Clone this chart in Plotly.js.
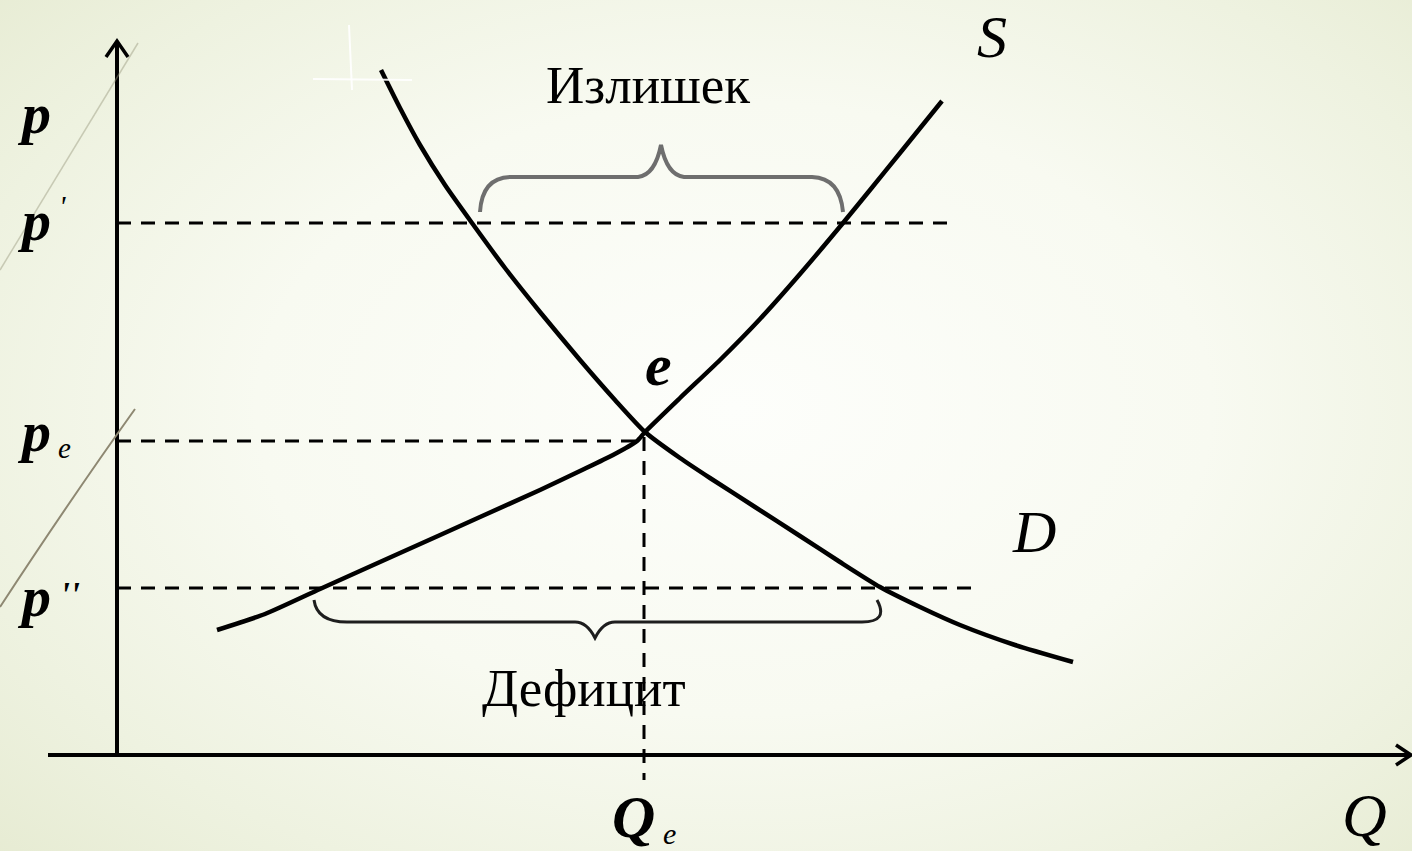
<!DOCTYPE html>
<html>
<head>
<meta charset="utf-8">
<script src="https://cdn.plot.ly/plotly-3.0.1.min.js"></script>
<style>
  html, body { margin: 0; padding: 0; width: 1412px; height: 851px; overflow: hidden; }
  body {
    background: radial-gradient(ellipse 75% 80% at 52% 48%, #fdfefb 0%, #f8faf1 45%, #eef2e0 75%, #e5ead0 100%);
  }
  #chart { width: 1412px; height: 851px; }
</style>
</head>
<body>
<div id="chart"></div>
<script>
// ---- data (Q = quantity, p = price, arbitrary units) ----
const demandQ = [2.64, 2.83, 3.03, 3.28, 3.55, 3.88, 4.23, 4.63, 4.98, 5.28, 5.63, 5.93, 6.38, 6.83, 7.23, 7.63, 8.03, 8.43, 8.98, 9.56];
const demandP = [6.85, 6.47, 6.10, 5.70, 5.32, 4.87, 4.43, 3.95, 3.55, 3.23, 2.97, 2.77, 2.48, 2.19, 1.93, 1.68, 1.48, 1.30, 1.10, 0.93];

const supplyQ = [1.00, 1.48, 2.03, 2.83, 3.63, 4.23, 4.63, 4.96, 5.20, 5.28, 5.63, 6.03, 6.43, 6.83, 7.26, 7.53, 7.83, 8.25];
const supplyP = [1.25, 1.41, 1.66, 2.02, 2.38, 2.65, 2.84, 3.00, 3.14, 3.23, 3.57, 3.95, 4.36, 4.81, 5.32, 5.65, 6.02, 6.54];

const priceLevels   = [5.32, 3.14, 1.67];      // p', pe, p''
const priceLineEnds = [8.31, 5.26, 8.55];      // where each dashed level line stops
const equilibriumQ  = 5.27;
const equilibriumP  = 3.18;
const qeLineBottom  = -0.25;

const axisQmin = -0.69, axisQmax = 12.92;
const axisPmin = -0.02, axisPmax = 7.12;

const surplusLabel = "Излишек";
const deficitLabel = "Дефицит";

// ---- traces ----
const black = "#000";
const traces = [];

// axes
traces.push({x: [axisQmin, axisQmax], y: [0, 0], mode: "lines", line: {color: black, width: 4}, hoverinfo: "skip"});
traces.push({x: [0, 0], y: [axisPmin, axisPmax], mode: "lines", line: {color: black, width: 4}, hoverinfo: "skip"});

// dashed price levels
priceLevels.forEach((p, i) => {
  traces.push({x: [0, priceLineEnds[i]], y: [p, p], mode: "lines",
    line: {color: black, width: 3, dash: "14px,10px"}, hoverinfo: "skip"});
});
// dashed Qe
traces.push({x: [equilibriumQ, equilibriumQ], y: [equilibriumP, qeLineBottom], mode: "lines",
  line: {color: black, width: 3, dash: "14px,10px"}, hoverinfo: "skip"});

// demand and supply
traces.push({x: demandQ, y: demandP, mode: "lines", line: {color: black, width: 4.5, shape: "spline", smoothing: 0.6}, hoverinfo: "skip"});
traces.push({x: supplyQ, y: supplyP, mode: "lines", line: {color: black, width: 4.5, shape: "spline", smoothing: 0.6}, hoverinfo: "skip"});

// ---- shapes (braces, arrowheads, decorative theme lines) ----
const shapes = [
  // top brace (surplus)
  {type: "path", xref: "x", yref: "y",
   path: "M 3.63,5.43 Q 3.65,5.77 3.93,5.78 L 5.21,5.78 Q 5.38,5.80 5.44,6.10 Q 5.50,5.80 5.67,5.78 L 6.95,5.78 Q 7.23,5.77 7.26,5.43",
   line: {color: "#6e6e6e", width: 4}},
  // bottom brace (deficit)
  {type: "path", xref: "x", yref: "y",
   path: "M 1.97,1.55 Q 2.00,1.33 2.30,1.33 L 4.58,1.33 Q 4.70,1.33 4.78,1.17 Q 4.86,1.33 4.98,1.33 L 7.45,1.33 Q 7.72,1.33 7.60,1.55",
   line: {color: "#1e1e1e", width: 3}},
  // y-axis arrowhead
  {type: "path", xref: "x", yref: "y", path: "M -0.11,6.98 L 0,7.14 L 0.11,6.98",
   line: {color: black, width: 3.5}},
  // x-axis arrowhead
  {type: "path", xref: "x", yref: "y", path: "M 12.79,0.10 L 12.94,0 L 12.79,-0.10",
   line: {color: black, width: 3.5}},
  // decorative theme lines
  {type: "path", xref: "x", yref: "y", path: "M -1.17,4.85 L 0.21,7.12",
   line: {color: "rgba(150,150,125,0.45)", width: 1.5}},
  {type: "path", xref: "x", yref: "y", path: "M -1.17,1.48 Q -0.47,2.55 0.18,3.46",
   line: {color: "#8e8872", width: 2}},
  {type: "path", xref: "x", yref: "y", path: "M 2.32,7.30 L 2.35,6.65",
   line: {color: "rgba(255,255,255,0.9)", width: 2}},
  {type: "path", xref: "x", yref: "y", path: "M 1.96,6.76 L 2.95,6.75",
   line: {color: "rgba(255,255,255,0.9)", width: 2}}
];

// ---- labels ----
const serif = "Liberation Serif, Times New Roman, serif";
function lab(text, x, y, size, opts) {
  return Object.assign({x: x, y: y, xref: "x", yref: "y", text: text, showarrow: false,
    xanchor: "center", yanchor: "middle", font: {family: serif, size: size, color: black}}, opts || {});
}
const annotations = [
  lab("<b><i>p</i></b>", -0.83, 6.42, 58),
  lab("<b><i>p</i></b>", -0.83, 5.35, 58),
  lab("<i>'</i>", -0.55, 5.50, 30),
  lab("<b><i>p</i></b>", -0.83, 3.24, 58),
  lab("<i>e</i>", -0.53, 3.07, 29),
  lab("<b><i>p</i></b>", -0.83, 1.59, 58),
  lab("<b><i>''</i></b>", -0.47, 1.60, 36),
  lab("<b><i>e</i></b>", 5.41, 3.90, 60),
  lab("<b><i>Q</i></b>", 5.16, -0.62, 60),
  lab("<i>e</i>", 5.52, -0.78, 30),
  lab("<i>S</i>", 8.75, 7.18, 60),
  lab("<i>D</i>", 9.17, 2.23, 60),
  lab("<i>Q</i>", 12.47, -0.60, 62),
  lab(surplusLabel, 5.31, 6.70, 53),
  lab(deficitLabel, 4.67, 0.67, 53)
];

const layout = {
  width: 1412, height: 851,
  margin: {l: 0, r: 0, t: 0, b: 0, pad: 0},
  paper_bgcolor: "rgba(0,0,0,0)", plot_bgcolor: "rgba(0,0,0,0)",
  showlegend: false,
  xaxis: {range: [-1.17, 12.95], visible: false, fixedrange: true},
  yaxis: {range: [-0.96, 7.55], visible: false, fixedrange: true},
  shapes: shapes,
  annotations: annotations
};

Plotly.newPlot("chart", traces, layout, {displayModeBar: false, staticPlot: true});
</script>
</body>
</html>
